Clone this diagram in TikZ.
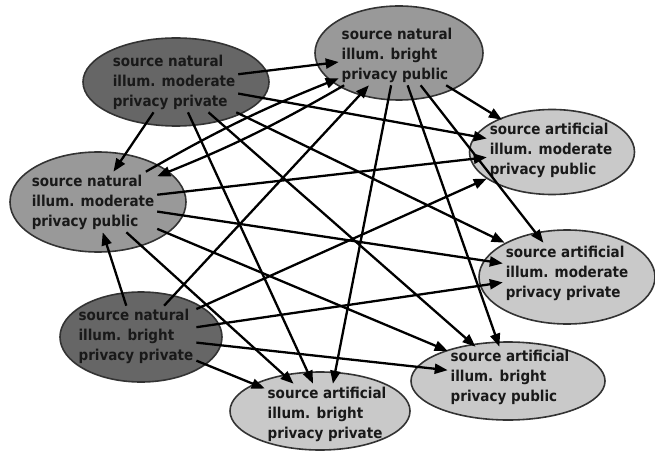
\documentclass[tikz,border=0pt]{standalone}
\usepackage{fontspec}
\setmainfont{DejaVu Sans}
\newfontfamily\nodefont{DejaVu Sans Condensed Bold}
\usetikzlibrary{arrows.meta,shapes.geometric}
\definecolor{darkfill}{gray}{0.40}
\definecolor{midfill}{gray}{0.60}
\definecolor{lightfill}{gray}{0.79}
\definecolor{rim}{gray}{0.20}
\begin{document}
\begin{tikzpicture}[x=1pt,y=-1pt,
  oval/.style={ellipse, draw=rim, line width=1.6pt, inner sep=0pt},
  nodetext/.style={rectangle, inner sep=3pt, outer sep=0pt, align=left,
    font=\nodefont\fontsize{15}{20}\selectfont, text=black!90},
  link/.style={line width=2.3pt, draw=black, -{Triangle[length=13pt,width=10pt]}}]
\useasboundingbox (0,0) rectangle (655,454);

% filled ovals
\node[oval, fill=darkfill,  minimum width=186pt, minimum height=88pt] (Aoval) at (176,82) {};
\node[oval, fill=midfill,   minimum width=168pt, minimum height=94pt] (Boval) at (399,53) {};
\node[oval, fill=lightfill, minimum width=165pt, minimum height=85pt] (Coval) at (552,152) {};
\node[oval, fill=midfill,   minimum width=176pt, minimum height=100pt] (Doval) at (98,202) {};
\node[oval, fill=lightfill, minimum width=176pt, minimum height=94pt] (Eoval) at (567,277) {};
\node[oval, fill=darkfill,  minimum width=162pt, minimum height=90pt] (Foval) at (141,337) {};
\node[oval, fill=lightfill, minimum width=180pt, minimum height=78pt] (Goval) at (320,411) {};
\node[oval, fill=lightfill, minimum width=194pt, minimum height=78pt] (Hoval) at (508,381) {};

% labels
\node[nodetext] (A) at (174,82)  {source natural\\illum. moderate\\privacy private};
\node[nodetext] (B) at (397,55)  {source natural\\illum. bright\\privacy public};
\node[nodetext] (C) at (551,150) {source artificial\\illum. moderate\\privacy public};
\node[nodetext] (D) at (93,202)  {source natural\\illum. moderate\\privacy public};
\node[nodetext] (E) at (567,273) {source artificial\\illum. moderate\\privacy private};
\node[nodetext] (F) at (136,336) {source natural\\illum. bright\\privacy private};
\node[nodetext] (G) at (327,414) {source artificial\\illum. bright\\privacy private};
\node[nodetext] (H) at (510,377) {source artificial\\illum. bright\\privacy public};

% edges
\draw[link] (A) -- (B);
\draw[link] (A) -- (D);
\draw[link] (A) -- (C);
\draw[link] (A) -- (E);
\draw[link] (A) -- (H);
\draw[link] (A) -- (G);

\draw[link] (B) -- (C);
\draw[link] (B) -- (E);
\draw[link] (B) -- (H);
\draw[link] (B) -- (G);
\draw[link] (B) to[bend left=4] (D);

\draw[link] (D) to[bend left=4] (B);
\draw[link] (D) -- (C);
\draw[link] (D) -- (E);
\draw[link] (D) -- (H);
\draw[link] (D) -- (G);

\draw[link] (F) -- (D);
\draw[link] (F) -- (B);
\draw[link] (F) -- (C);
\draw[link] (F) -- (E);
\draw[link] (F) -- (H);
\draw[link] (F) -- (G);
\end{tikzpicture}
\end{document}
